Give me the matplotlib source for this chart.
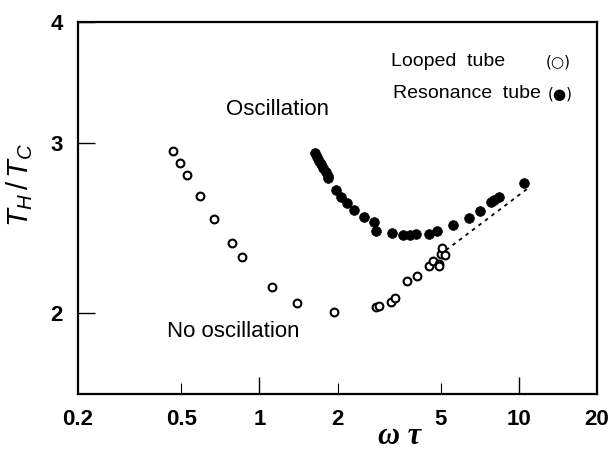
import matplotlib
matplotlib.use("Agg")
import matplotlib.pyplot as plt
from matplotlib.ticker import FixedLocator, NullFormatter, FixedFormatter

plt.rcParams['font.family'] = ['Liberation Sans', 'DejaVu Sans']
plt.rcParams['mathtext.fontset'] = 'custom'
plt.rcParams['mathtext.it'] = 'Liberation Sans:italic'
plt.rcParams['mathtext.rm'] = 'Liberation Sans'

# Looped tube (open circles)
looped_x = [0.465, 0.494, 0.526, 0.592, 0.670, 0.782, 0.857, 1.119, 1.393, 1.944,
            2.814, 2.898, 3.216, 3.332, 3.697, 4.040, 4.500, 4.654, 4.904, 4.935,
            4.988, 5.041, 5.200]
looped_y = [2.942, 2.862, 2.781, 2.641, 2.504, 2.364, 2.287, 2.129, 2.050, 2.006,
            2.030, 2.035, 2.055, 2.074, 2.158, 2.184, 2.240, 2.264, 2.251, 2.237,
            2.300, 2.333, 2.296]

# Resonance tube (filled circles)
reson_x = [1.636, 1.666, 1.694, 1.724, 1.754, 1.803, 1.835, 1.846, 1.965, 2.063,
           2.173, 2.312, 2.538, 2.775, 2.825, 3.230, 3.584, 3.813, 4.015, 4.500,
           4.853, 5.574, 6.396, 7.095, 7.790, 8.007, 8.368, 10.44]
reson_y = [2.930, 2.903, 2.875, 2.853, 2.828, 2.801, 2.774, 2.757, 2.682, 2.639,
           2.598, 2.556, 2.512, 2.486, 2.432, 2.418, 2.409, 2.409, 2.414, 2.414,
           2.433, 2.466, 2.508, 2.552, 2.608, 2.618, 2.635, 2.726]

# Dashed line
dash_x = [5.24, 10.75]
dash_y = [2.324, 2.688]

xticks = [0.2, 0.5, 1, 2, 5, 10, 20]
xticklabels = ['0.2', '0.5', '1', '2', '5', '10', '20']
yticks = [2, 3, 4]
yticklabels = ['2', '3', '4']

fig = plt.figure(figsize=(6.10, 4.51), dpi=100)
ax = fig.add_axes([0.1279, 0.1264, 0.8508, 0.8248])
ax.set_xscale('log')
ax.set_yscale('log')
ax.set_xlim(0.2, 20)
ax.set_ylim(1.65, 4)

ax.plot(dash_x, dash_y, linestyle=(0, (2.0, 2.5)), color='black', lw=1.3)
ax.plot(looped_x, looped_y, 'o', ms=5.6, mfc='white', mec='black', mew=1.5, ls='none')
ax.plot(reson_x, reson_y, 'o', ms=7.0, mfc='black', mec='black', mew=0.5, ls='none')

for s in ax.spines.values():
    s.set_linewidth(1.6)

ax.xaxis.set_major_locator(FixedLocator([1, 10]))
ax.xaxis.set_minor_locator(FixedLocator([0.5, 2, 5]))
ax.xaxis.set_major_formatter(NullFormatter())
ax.xaxis.set_minor_formatter(NullFormatter())
ax.tick_params(axis='x', which='major', direction='in', length=12, width=1.0, top=False)
ax.tick_params(axis='x', which='minor', direction='in', length=8, width=0.8, top=False)
for xv, lab in zip(xticks, xticklabels):
    ax.text(xv, -0.04, lab, transform=ax.get_xaxis_transform(), ha='center', va='top',
            fontsize=16, fontweight='bold')

ax.yaxis.set_major_locator(FixedLocator(yticks))
ax.yaxis.set_minor_locator(FixedLocator([]))
ax.yaxis.set_major_formatter(FixedFormatter(yticklabels))
ax.yaxis.set_minor_formatter(NullFormatter())
ax.tick_params(axis='y', which='major', direction='in', length=12, width=1.0, right=False,
               pad=11, labelsize=16)
for t in ax.get_yticklabels():
    t.set_fontweight('bold')

ax.text(0.62, -0.113, 'ω τ', transform=ax.transAxes, ha='center', va='center',
        fontsize=22, family=['Liberation Serif'], style='italic', fontweight='bold')
ax.set_ylabel(r'$T_H\,/\,T_C$', fontsize=21)
ax.yaxis.set_label_coords(-0.083, 0.562)

ax.text(0.385, 0.766, 'Oscillation', transform=ax.transAxes, ha='center', va='center', fontsize=16)
ax.text(0.299, 0.169, 'No oscillation', transform=ax.transAxes, ha='center', va='center', fontsize=16)
ax.text(0.603, 0.895, 'Looped  tube', transform=ax.transAxes, ha='left', va='center', fontsize=14)
ax.text(0.925, 0.892, '(○)', transform=ax.transAxes, ha='center', va='center', fontsize=11,
        family=['DejaVu Sans'])
ax.text(0.607, 0.809, 'Resonance  tube', transform=ax.transAxes, ha='left', va='center', fontsize=14)
ax.text(0.929, 0.806, '(●)', transform=ax.transAxes, ha='center', va='center', fontsize=11,
        family=['DejaVu Sans'])

fig.savefig('out.png', dpi=100)
